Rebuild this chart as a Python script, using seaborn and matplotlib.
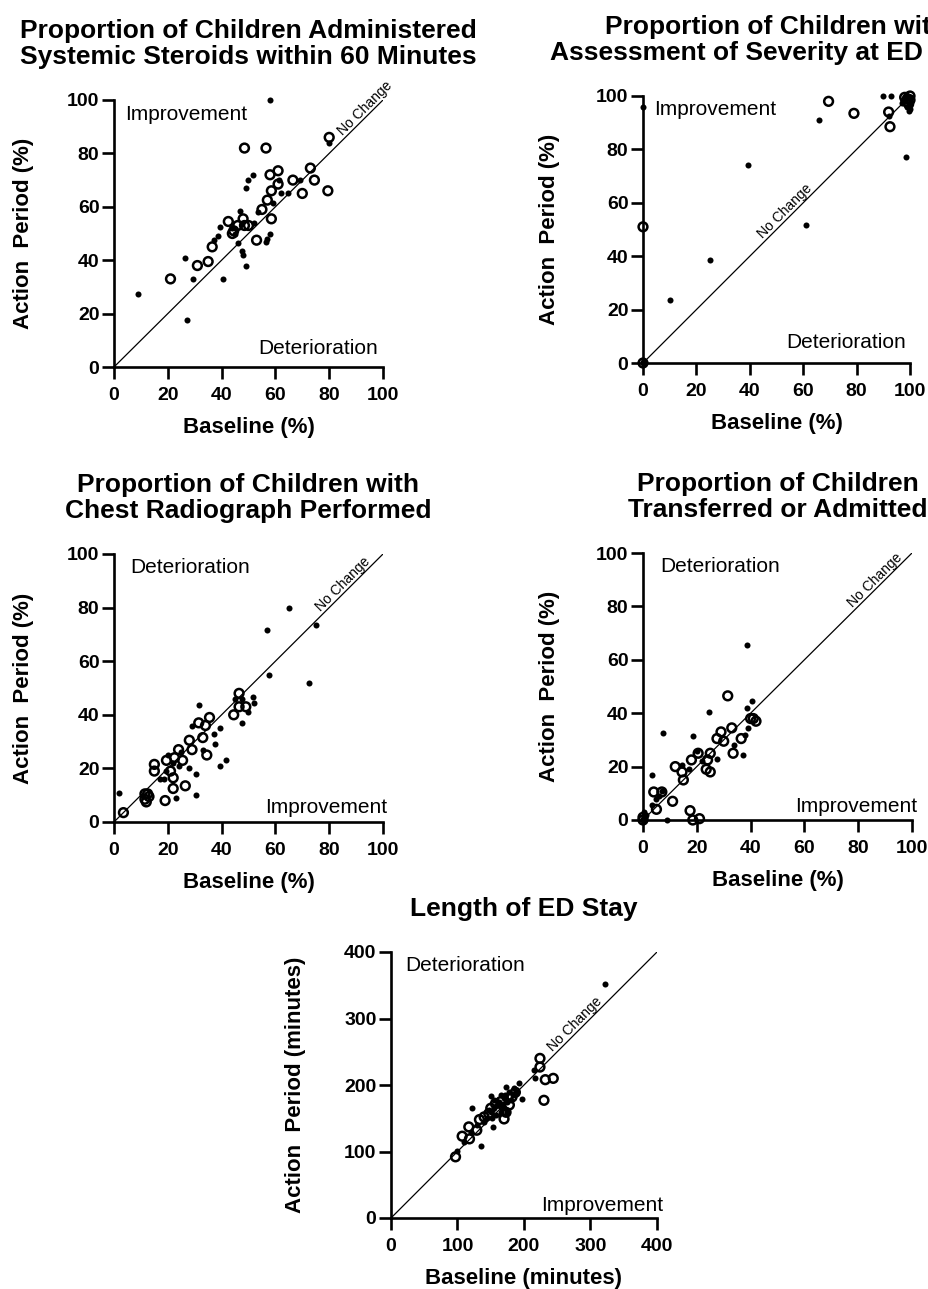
import pandas as pd
import seaborn as sns
import matplotlib.pyplot as plt

# ---- data (baseline vs action period) ----
# filled dots / open circles as in the original
steroid_base_dot = [58, 9, 26.5, 27, 29.5, 40.5, 39.5, 38.5, 37, 47, 46, 47.5, 48, 49, 49, 50, 51.5,
                    56.5, 58, 53.5, 59, 61.5, 62, 64.5, 69, 80, 44, 57, 52, 45]
steroid_act_dot = [100, 27.5, 41, 17.5, 33, 33, 52.5, 49, 47.5, 58.5, 46.5, 43.5, 42, 38, 67, 70, 72,
                   47, 50, 58, 61.5, 70, 65, 65, 70, 84, 52, 48, 54, 50]
steroid_base_ring = [21, 31, 35, 36.5, 42.5, 44, 44.5, 46, 48, 48.5, 50, 48.5, 56.5, 55, 57, 58, 61,
                     58.5, 61, 58.5, 53, 66.5, 70, 73, 74.5, 79.5, 80]
steroid_act_ring = [33, 38, 39.5, 45, 54.5, 50, 51, 53, 55.5, 53, 53, 82, 82, 59, 62.5, 72, 73.5,
                    66, 68.5, 55.5, 47.5, 70, 65, 74.5, 70, 66, 86]

severity_base_dot = [0, 0, 0.5, 0, 0.5, 10, 25, 39.5, 61, 66, 90, 93, 92, 98.5, 98, 99, 99.5, 100,
                     98.5, 100, 99, 97, 100]
severity_act_dot = [96, 0, 0, 0.5, 0.5, 23.5, 38.5, 74, 51.5, 91, 100, 100, 92.5, 77, 98, 96, 94.5,
                    97, 99, 99.5, 100, 97.5, 95]
severity_base_ring = [0, 0, 69.5, 79, 92, 92.5, 99, 100, 98.5, 100, 99.5, 98]
severity_act_ring = [51, 0, 98, 93.5, 94, 88.5, 99, 100, 98, 98.5, 97, 99.5]

xray_base_dot = [2, 65, 57, 75, 57.5, 72.5, 31.5, 29, 39.5, 37, 37.5, 41.5, 39.5, 28, 30.5, 30.5, 23,
                 17, 18.5, 19.5, 20, 24, 47.5, 47.5, 50, 51.5, 52, 45, 33, 25, 22]
xray_act_dot = [11, 80, 71.5, 73.5, 55, 52, 43.5, 36, 35, 33, 29, 23, 21, 20, 18, 10, 9,
                16, 16, 19, 25, 21, 46, 37, 41, 46.5, 44.5, 46, 27, 26, 22]
xray_base_ring = [3.5, 11.5, 12.5, 11.5, 12, 13, 15, 15, 19, 19.5, 21, 22, 22, 22.5, 24, 25.5, 26.5,
                  28, 29, 31.5, 33, 34, 34.5, 35.5, 44.5, 46.5, 46.5, 49]
xray_act_ring = [3.5, 10.5, 10.5, 8.5, 7.5, 9.5, 21.5, 19, 8, 23, 19, 16.5, 12.5, 24, 27, 23, 13.5,
                 30.5, 27, 37, 31.5, 36, 25, 39, 40, 48, 43, 43]

admit_base_dot = [0, 0.5, 0, 0.5, 1, 0.5, 3.5, 7.5, 9, 3.5, 5, 7, 6, 14.5, 18.5, 20, 24.5, 27.5, 38.5,
                  38.5, 40.5, 39, 37, 34, 38, 17, 22]
admit_act_dot = [0, 0, 0.5, 0.5, 2, 3, 17, 32.5, 0, 5.5, 8, 11, 9, 20.5, 31.5, 26, 40.5, 23, 42,
                 65.5, 44.5, 34.5, 24.5, 28, 32, 19, 22]
admit_base_ring = [0, 0, 4, 7, 5, 11, 12, 14.5, 15, 17.5, 18.5, 21, 18, 20.5, 24, 23.5, 25, 25,
                   27.5, 29, 30, 31.5, 33, 33.5, 36.5, 40, 42, 41]
admit_act_ring = [0, 1, 10.5, 10.5, 4, 7, 20, 18, 15, 3.5, 0, 0.5, 22.5, 25, 22.5, 19, 18, 25,
                  30.5, 33, 29.5, 46.5, 34.5, 25, 30.5, 38, 37, 38]

stay_base_dot = [322, 100, 122, 136, 154, 150, 173, 193, 197, 215, 217, 130, 140, 145, 150, 155, 158,
                 160, 162, 165, 168, 170, 172, 175, 178, 180, 183, 185, 148, 152, 165, 170, 188, 120,
                 110, 155, 175]
stay_act_dot = [352, 101, 165, 108, 137, 184, 197, 203, 179, 222, 211, 140, 145, 150, 160, 165, 155,
                170, 175, 160, 172, 180, 185, 175, 190, 178, 185, 195, 162, 150, 185, 165, 190, 130,
                115, 178, 160]
stay_base_ring = [97, 107, 117, 118, 129, 133, 147, 157, 170, 173, 182, 187, 224, 224, 232, 244, 230,
                  150, 160, 140, 165, 178]
stay_act_ring = [92, 123, 137, 119, 132, 148, 157, 172, 149, 159, 182, 189, 240, 227, 208, 210, 177,
                 165, 160, 152, 175, 170]

W, H = 929, 1289

sns.set_style('ticks')
plt.rcParams['font.family'] = ['Liberation Sans', 'DejaVu Sans']
plt.rcParams.update({'text.color': 'black', 'axes.labelcolor': 'black',
                     'xtick.color': 'black', 'ytick.color': 'black',
                     'axes.edgecolor': 'black'})

fig = plt.figure(figsize=(W / 100, H / 100), dpi=100)


def make_axes(l, r, t, b):
    return fig.add_axes([l / W, 1 - b / H, (r - l) / W, (b - t) / H])


def panel(ax, bd, ad, br, ar, lim, title, xlab, ylab, top_txt, top_xy, bot_txt, bot_xy, nc,
          ylab_px, box):
    pw, ph = box
    ax.plot([0, lim], [0, lim], color='black', lw=0.9, zorder=1)
    sns.scatterplot(x=bd, y=ad, ax=ax, color='black', s=19, linewidth=0, clip_on=False, zorder=3)
    sns.scatterplot(x=br, y=ar, ax=ax, facecolor='none', edgecolor='black', s=40,
                    linewidth=1.8, clip_on=False, zorder=4)
    ax.set_xlim(0, lim)
    ax.set_ylim(0, lim)
    ticks = list(range(0, lim + 1, lim // 5 if lim == 100 else 100))
    ax.set_xticks(ticks)
    ax.set_yticks(ticks)
    sns.despine(ax=ax)
    for s in ['left', 'bottom']:
        ax.spines[s].set_linewidth(1.9)
    ax.tick_params(axis='both', length=8.5, width=1.9, labelsize=14)
    ax.tick_params(axis='x', pad=6)
    ax.tick_params(axis='y', pad=2)
    for lab in ax.get_xticklabels() + ax.get_yticklabels():
        lab.set_fontweight('bold')
    ax.set_xlabel(xlab, fontsize=16, fontweight='bold')
    ax.set_ylabel(ylab, fontsize=16, fontweight='bold')
    ax.xaxis.set_label_coords(0.5, -50 / ph)
    ax.yaxis.set_label_coords(-ylab_px / pw, 0.5)
    ax.set_title(title, fontsize=19, fontweight='bold', y=1.0, pad=26, linespacing=1.1)
    ax.text(top_xy[0], top_xy[1], top_txt, fontsize=15, ha='left', va='center')
    ax.text(bot_xy[0], bot_xy[1], bot_txt, fontsize=15, ha='right', va='center')
    ax.text(nc, nc, 'No Change', fontsize=10, rotation=45, rotation_mode='anchor',
            ha='center', va='bottom', transform_rotates_text=True)


ax1 = make_axes(114, 383, 100, 367)
panel(ax1, steroid_base_dot, steroid_act_dot, steroid_base_ring, steroid_act_ring, 100,
      'Proportion of Children Administered\nSystemic Steroids within 60 Minutes',
      'Baseline (%)', 'Action  Period (%)', 'Improvement', (4, 94.5), 'Deterioration', (98, 7),
      95, 80, (269, 267))

ax2 = make_axes(643, 910, 96, 363)
panel(ax2, severity_base_dot, severity_act_dot, severity_base_ring, severity_act_ring, 100,
      'Proportion of Children with\nAssessment of Severity at ED triage',
      'Baseline (%)', 'Action  Period (%)', 'Improvement', (4, 95), 'Deterioration', (98.5, 7.5),
      55, 83, (267, 267))

ax3 = make_axes(114, 383, 554, 822)
panel(ax3, xray_base_dot, xray_act_dot, xray_base_ring, xray_act_ring, 100,
      'Proportion of Children with\nChest Radiograph Performed',
      'Baseline (%)', 'Action  Period (%)', 'Deterioration', (6, 95), 'Improvement', (101.5, 5.5),
      87, 80, (269, 268))

ax4 = make_axes(643, 912, 553, 820)
panel(ax4, admit_base_dot, admit_act_dot, admit_base_ring, admit_act_ring, 100,
      'Proportion of Children\nTransferred or Admitted',
      'Baseline (%)', 'Action  Period (%)', 'Deterioration', (6.5, 95), 'Improvement', (102, 5),
      88, 83, (269, 267))

ax5 = make_axes(391, 657, 952, 1218)
panel(ax5, stay_base_dot, stay_act_dot, stay_base_ring, stay_act_ring, 400,
      'Length of ED Stay',
      'Baseline (minutes)', 'Action  Period (minutes)', 'Deterioration', (21, 379),
      'Improvement', (409, 19), 284, 85, (266, 266))

plt.savefig('out.png', dpi=100)
